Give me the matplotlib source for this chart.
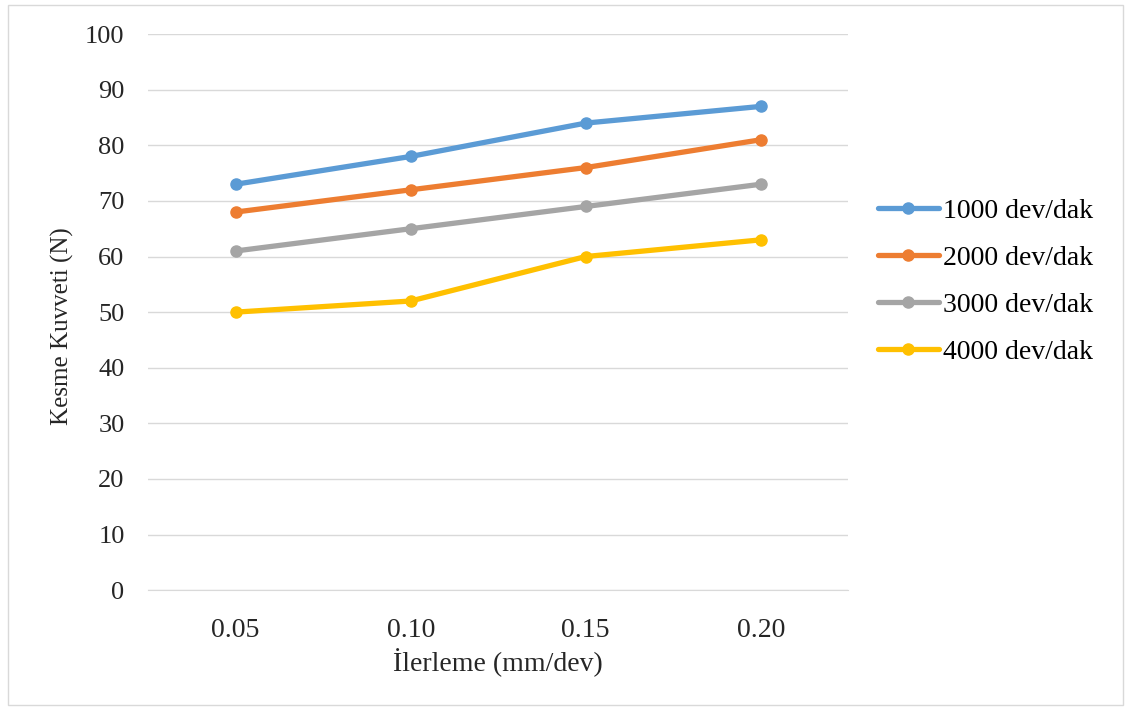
import matplotlib.pyplot as plt
from matplotlib.patches import Rectangle

plt.rcParams['font.family'] = ['Liberation Serif', 'DejaVu Serif']

feeds = ['0.05', '0.10', '0.15', '0.20']
labels = ['1000 dev/dak', '2000 dev/dak', '3000 dev/dak', '4000 dev/dak']
f_1000 = [73, 78, 84, 87]
f_2000 = [68, 72, 76, 81]
f_3000 = [61, 65, 69, 73]
f_4000 = [50, 52, 60, 63]
colors = ['#5B9BD5', '#ED7D31', '#A5A5A5', '#FFC000']

fig = plt.figure(figsize=(11.31, 7.11), dpi=100)
ax = fig.add_axes([0.131, 0.170, 0.619, 0.782])

x = range(len(feeds))
for vals, lab, c in zip([f_1000, f_2000, f_3000, f_4000], labels, colors):
    ax.plot(x, vals, color=c, linewidth=3.8, marker='o', markersize=8,
            label=lab, solid_capstyle='round')

ax.set_xlim(-0.5, 3.5)
ax.set_ylim(0, 100)
ax.set_yticks(range(0, 101, 10))
ax.set_xticks(list(x))
ax.set_xticklabels(feeds)
ax.grid(axis='y', color='#D9D9D9', linewidth=1)
ax.set_axisbelow(True)
for s in ['top', 'right', 'left']:
    ax.spines[s].set_visible(False)
ax.spines['bottom'].set_color('#D9D9D9')
ax.tick_params(axis='y', length=0, labelsize=19, pad=17, colors='#262626')
ax.tick_params(axis='x', length=0, labelsize=20, pad=20, colors='#262626')
ax.set_ylabel('Kesme Kuvveti (N)', fontsize=18, color='#262626', labelpad=8)
ax.yaxis.label.set_y(0.475)
ax.set_xlabel('İlerleme (mm/dev)', fontsize=20, color='#262626', labelpad=4)

leg = fig.legend(loc='center left', bbox_to_anchor=(0.776, 0.604), frameon=False,
                 fontsize=20, handlelength=2.2, labelspacing=0.77, handletextpad=0.15,
                 borderpad=0, borderaxespad=0)

fig.patches.append(Rectangle((0.007, 0.008), 0.986, 0.985, transform=fig.transFigure,
                             fill=False, edgecolor='#D9D9D9', linewidth=1))

fig.savefig('out.png', dpi=100)
